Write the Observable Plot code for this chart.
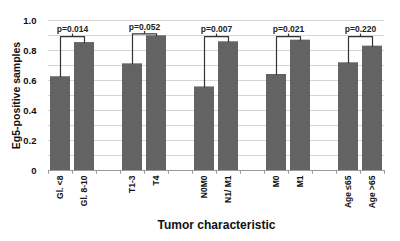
<!DOCTYPE html>
<html><head><meta charset="utf-8">
<script src="https://cdn.jsdelivr.net/npm/d3@7"></script>
<script src="https://cdn.jsdelivr.net/npm/@observablehq/plot@0.6"></script>
<style>
body{margin:0;background:#fff}
svg{font-family:"Liberation Sans",Arial,sans-serif}
</style>
</head><body><div id="chart"></div>
<script>
const categories = ["Gl. <8","Gl. 8-10","T1-3","T4","N0M0","N1/ M1","M0","M1","Age \u226465","Age >65"];
const groups = ["Grade","T","N","M","Age"];
const values = [0.625,0.853,0.711,0.898,0.557,0.858,0.640,0.869,0.718,0.829];
const pLabels = ["p=0.014","p=0.052","p=0.007","p=0.021","p=0.220"];
const yTicks = [0,0.2,0.4,0.6,0.8,1.0];
const gridTicks = [0.1,0.2,0.3,0.4,0.5,0.6,0.7,0.8,0.9,1.0];

// slot domain: two bars per group, spacer slot between groups
const domain = [];
groups.forEach((g,i)=>{
  domain.push(categories[2*i], categories[2*i+1]);
  if (i < groups.length-1) domain.push("_s"+i);
});
const bars = categories.map((c,i)=>({cat:c, v:values[i], g:groups[Math.floor(i/2)]}));

const brackets = [];
const pData = [];
groups.forEach((g,i)=>{
  const a = bars[2*i], b = bars[2*i+1];
  const top = Math.max(0.893, Math.max(a.v,b.v)+0.013);
  brackets.push({g, x:a.cat, y:a.v},{g, x:a.cat, y:top},{g, x:b.cat, y:top},{g, x:b.cat, y:b.v});
  pData.push({g, x:a.cat, y:top, label:pLabels[i]});
});

const step = 24;
const chart = Plot.plot({
  width: 400, height: 241,
  marginLeft: 48, marginRight: 16, marginTop: 20, marginBottom: 71,
  style: {fontFamily:'"Liberation Sans",Arial,sans-serif', background:"#fff", color:"#111"},
  x: {domain, paddingInner: 0.16, paddingOuter: 0.08, label: null},
  y: {domain: [0,1], label: null},
  marks: [
    Plot.gridY(gridTicks, {stroke:"#d4d4d4", strokeOpacity:1}),
    Plot.barY(bars, {x:"cat", y:"v", fill:"#636363"}),
    Plot.ruleY([0], {stroke:"#9a9a9a"}),
    Plot.ruleX(domain, {x:d=>d, dx:-step/2, y1:0, y2:-0.025, stroke:"#9a9a9a"}),
    Plot.ruleX([domain[domain.length-1]], {x:d=>d, dx:step/2, y1:0, y2:-0.025, stroke:"#9a9a9a"}),
    Plot.line(brackets, {x:"x", y:"y", z:"g", stroke:"#333", strokeWidth:1.2}),
    Plot.ruleX(pData, {x:"x", dx:step/2, y1:"y", y2:d=>d.y+0.016, stroke:"#333", strokeWidth:1.2}),
    Plot.text(pData, {x:"x", dx:step/2, y:d=>d.y+0.047, text:"label", fontSize:8.5, fontWeight:"bold", fill:"#222"}),
    Plot.axisY(yTicks, {tickSize:0, tickPadding:12, fontSize:9.5, fontWeight:"bold",
      tickFormat:d=>d===0?"0":d.toFixed(1),
      label:"Eg5-positive samples", labelAnchor:"center", labelArrow:false, labelOffset:36}),
    Plot.axisX({tickSize:0, tickPadding:5, tickRotate:-90, fontSize:8.5, fontWeight:"bold",
      tickFormat:d=>d.startsWith("_s")?"":d,
      label:"Tumor characteristic", labelAnchor:"center", labelArrow:false, labelOffset:58})
  ]
});
chart.querySelectorAll("[aria-label='y-axis label'] text, [aria-label='y-axis label']").forEach(t=>{
  t.setAttribute("font-weight","bold"); t.setAttribute("font-size","10.5");
});
chart.querySelectorAll("[aria-label='x-axis label'] text, [aria-label='x-axis label']").forEach(t=>{
  t.setAttribute("font-weight","bold"); t.setAttribute("font-size","12");
});
document.getElementById("chart").append(chart);
</script>
</body></html>
